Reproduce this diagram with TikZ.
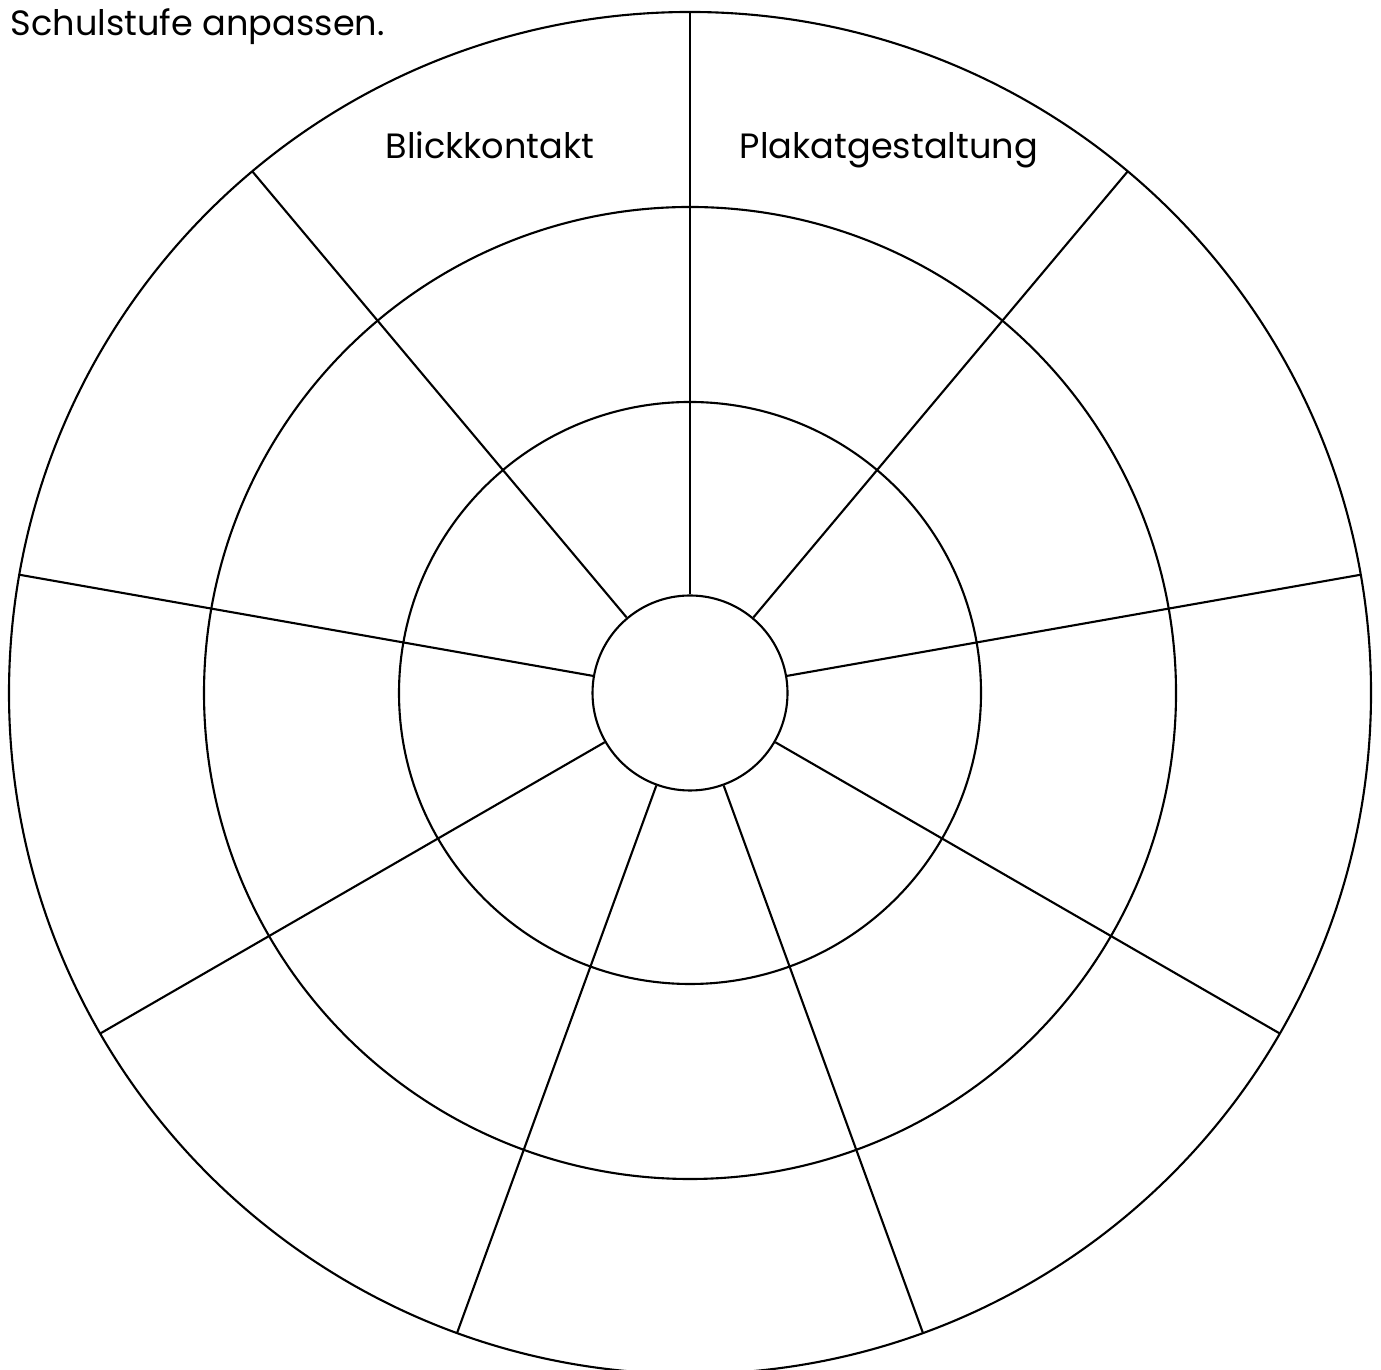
\documentclass[tikz,border=0pt]{standalone}
\usepackage{fontspec}
\setmainfont{Poppins}
\usetikzlibrary{calc}

\begin{document}
\begin{tikzpicture}[
  ring/.style={draw=black, line width=0.6pt},
  spoke/.style={draw=black, line width=0.6pt},
  hub/.style={draw=black, line width=0.6pt, circle, minimum size=1.95cm, inner sep=0pt},
  lbl/.style={font=\fontsize{10}{12}\selectfont, inner sep=0pt}
]
  \useasboundingbox (0,0) rectangle (13.81,13.69);

  %% Centre and rings
  \coordinate (ctr) at (6.90,6.76);
  \node[hub] (hub) at (ctr) {};
  \draw[ring] (ctr) circle (2.91);
  \draw[ring] (ctr) circle (4.86);
  \draw[ring] (ctr) circle (6.81);

  %% Nine spokes, 40 degrees apart
  \foreach \a in {90,50,10,-30,-70,-110,-150,170,130}
    \draw[spoke] (hub.\a) -- ($(ctr)+(\a:6.81)$);

  %% Texts
  \node[lbl, anchor=base west] (note) at (0.10,13.33) {Schulstufe anpassen.};
  \node[lbl, anchor=base] (blick) at (4.90,12.10) {Blickkontakt};
  \node[lbl, anchor=base] (plakat) at (8.89,12.10) {Plakatgestaltung};
\end{tikzpicture}
\end{document}
